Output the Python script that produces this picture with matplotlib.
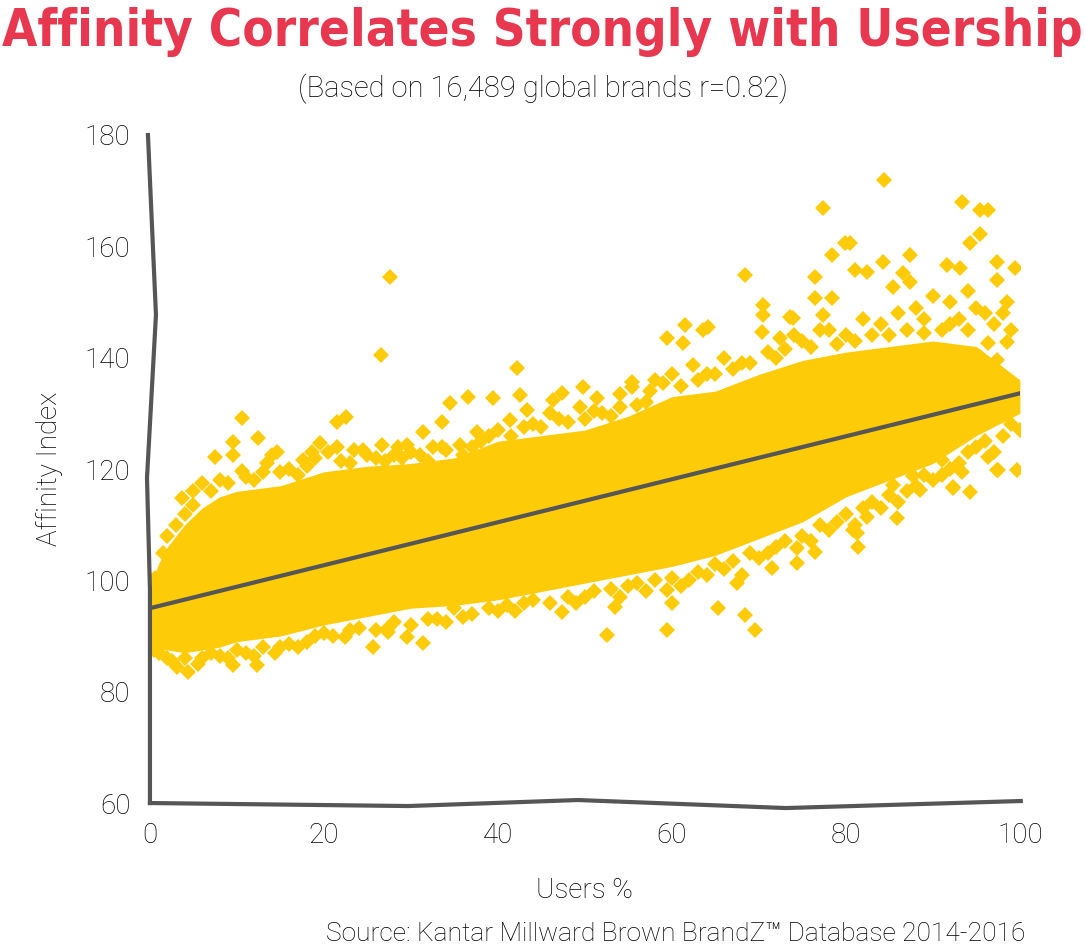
import matplotlib
matplotlib.use('Agg')
import matplotlib.pyplot as plt

# dense core of the cloud (Users %, lower / upper Affinity Index)
core_x  = [0, 1, 2, 4, 6, 8, 10, 15, 20, 25, 30, 35, 40, 45, 50, 55, 60, 65, 70, 75, 80, 85, 90, 95, 100]
core_lo = [88, 87.5, 87.5, 87, 87.5, 88, 89, 90, 92, 93.5, 95, 95.5, 96.5, 98, 99.5, 101, 102.5, 104.5, 107.5, 110.5, 115, 118, 121, 126, 130]
core_hi = [99, 103, 106, 110, 113, 115, 116, 117, 119.5, 120.5, 121, 122, 125, 126, 127, 129.5, 133, 134, 137, 139.5, 141, 142, 143, 142, 136]

# individual brands outside the core
pts = [
    # upper-left edge
    (0.6, 100.4), (3.7, 114.8), (7.5, 122.2), (9.5, 124.8), (10.6, 129.2), (12.4, 125.6),
    (9.5, 122.5), (10.6, 119.6), (14.0, 122.5), (14.6, 123.0), (21.5, 128.4), (22.5, 129.3),
    (19.5, 124.7), (18.6, 123.0), (17.6, 121.6), (21.5, 124.0), (20.5, 123.0), (24.5, 123.4),
    (26.7, 124.3), (28.5, 124.0), (29.5, 124.3), (31.4, 126.6), (33.6, 128.4), (32.5, 124.0),
    (33.6, 124.0), (35.6, 124.3), (37.6, 126.6), (41.4, 128.8), (43.3, 130.6), (49.4, 131.1),
    (51.4, 132.8), (55.4, 134.7), (54.0, 131.1), (34.5, 131.8), (36.6, 132.9), (39.4, 132.8),
    (42.2, 138.1), (42.5, 133.3), (47.4, 133.6), (46.3, 132.4), (49.8, 134.7), (55.4, 135.6),
    (27.6, 154.5), (26.6, 140.5),
    (2, 108), (4, 112), (5, 116), (6, 117.5), (8, 118), (11, 118.5), (13, 119.5), (16, 120),
    (23, 121), (26, 122), (28, 122.5), (30, 123), (38, 125), (44, 128), (47, 129), (52, 130),
    (57, 132),
    (1.5, 105), (3, 110), (5, 113.5), (7, 116), (9, 117.5), (12, 118), (13.5, 121), (15, 119.5),
    (17, 119), (18, 120.5), (19, 122), (22, 121.5), (23.5, 123.5), (25, 122.5), (27, 121.5),
    (29, 122), (31, 122.5), (32, 121.5), (34, 123.5), (36, 122.5), (37, 124), (39, 126),
    (40, 127), (41.5, 126), (43, 127.5), (45, 127.5), (46, 130), (48, 128.5), (50, 129),
    (51, 130.5), (53, 129.5), (54, 133.5), (56, 131.5), (57.5, 134), (59, 135.5), (60, 137),
    (61, 135), (63, 136), (65, 137), (67, 138), (69, 139), (71, 141), (73, 141.5), (74, 144),
    (76, 142), (77, 145), (79, 142.5), (81, 143), (83, 144), (87, 145), (89, 144.5), (92, 146),
    (94, 145), (95, 149), (97, 146), (98, 148),
    # upper-right
    (58, 136), (59.4, 143.5), (61.5, 145.9), (61.3, 142.6), (63.6, 145.0), (62.4, 138.7),
    (64.1, 145.5), (66, 140), (68.4, 154.8), (70.3, 144.6), (70.5, 149.5), (70.5, 147.7),
    (72.4, 143.5), (73.6, 147.3), (73.9, 147.1), (76.4, 154.5), (76.4, 150.7), (77.4, 147.7),
    (77.4, 166.9), (78.4, 158.4), (78.4, 150.7), (79.9, 160.6), (80.5, 160.6), (81.0, 155.7),
    (82.4, 155.4), (84.3, 157.2), (84.4, 171.9), (85.4, 152.7), (86.6, 155.2), (87.4, 158.4),
    (87.4, 153.6), (91.6, 156.6), (93.1, 156.1), (93.3, 168.0), (94.3, 160.6), (95.4, 162.2),
    (95.4, 166.5), (96.3, 166.5), (97.4, 157.2), (97.4, 153.9), (98.5, 150.0), (99.4, 156.1),
    (98.5, 142.8), (97.4, 139.6), (96.3, 142.6), (95.4, 140.1), (97.5, 135.6), (97.9, 129.7),
    (75, 143), (78, 145), (80, 144), (82, 147), (84, 146), (86, 148), (88, 149), (89, 147),
    (90, 151), (92, 150), (93, 147), (94, 152), (96, 148), (99, 145), (91, 145), (85, 144),
    (72, 140), (68, 139), (64, 137),
    # lower-right
    (96.3, 122.2), (97.5, 119.8), (94.3, 115.9), (92.3, 116.6), (93.3, 119.5), (95.4, 128.3),
    (90.8, 124.0), (91.1, 121.6), (88.5, 116.2), (85.9, 111.2), (82.4, 111.4), (81.3, 108.5),
    (81.4, 106.0), (85.4, 117.1), (99.7, 119.8), (87.7, 118.7), (85, 115.3), (80.8, 109),
    (92.3, 116.8), (97.4, 119.8),
    # lower edge
    (76.4, 105.1), (74.4, 103.1), (74.4, 105.8), (71.5, 102.2), (67.5, 99.5), (69.5, 91.1),
    (68.4, 93.8), (65.3, 95.0), (60.0, 95.9), (59.4, 98.3), (59.4, 91.1), (53.4, 95.2),
    (52.5, 90.2), (47.4, 94.3), (27.4, 90.7), (31.4, 88.7), (29.5, 89.8), (27.4, 91.4),
    (25.6, 88.0), (22.4, 89.8), (14.4, 86.9), (12.3, 84.8), (9.5, 84.8), (4.4, 83.5), (3.1, 84.4),
    (1, 87), (2, 86), (6, 86), (8, 86.5), (11, 87), (16, 88.5), (18, 89), (20, 90.5), (24, 91.5),
    (33, 93), (36, 93.5), (40, 94.5), (43, 96), (50, 97), (55, 99), (57, 98), (62, 100),
    (64, 101), (66, 102), (70, 104), (72, 106), (78, 109), (80, 112), (83, 114), (87, 116),
    (92, 120), (95, 124), (99, 128),
    (0.5, 87.5), (2.5, 85.5), (4, 86), (5.5, 85), (7, 87), (9, 86), (10, 87.5), (12, 86.5),
    (13, 88), (15, 88), (17, 88), (19, 90), (21, 90), (23, 91), (26, 91), (28, 92.5), (30, 92),
    (32, 93), (34, 92.5), (35, 95), (37, 94), (39, 95), (41, 95.5), (42, 94.5), (44, 96.5),
    (46, 96), (48, 97), (49, 96), (51, 98), (53, 98.5), (54, 97), (56, 99.5), (58, 100),
    (60, 100.5), (61, 99), (63, 101.5), (65, 103), (67, 103.5), (68, 101), (69, 105), (71, 105),
    (73, 107), (75, 108), (76, 107), (77, 110), (79, 110.5), (81, 110), (82, 113), (84, 113),
    (86, 114), (88, 117), (89, 119), (90, 118), (91, 119), (93, 121), (94, 123), (96, 125),
    (97, 123), (98, 126), (100, 127),
]
pts_x = [p[0] for p in pts]
pts_y = [p[1] for p in pts]

# fitted line
fit_x = [0, 100]
fit_y = [95.0, 133.6]

# hand-drawn axis lines
yaxis_x = [-0.23, 0.69, -0.34, 0.0, 0.0]
yaxis_y = [180, 147.7, 118.4, 98.3, 60]
xaxis_x = [0, 29.7, 49.2, 73.1, 100.1]
xaxis_y = [60, 59.46, 60.54, 59.1, 60.36]

xticks = [0, 20, 40, 60, 80, 100]
yticks = [60, 80, 100, 120, 140, 160, 180]

GOLD = '#FECB08'
GREY = '#565656'
RED = '#E8384F'
INK = '#000000'
FONT = ['Roboto', 'DejaVu Sans']
W = 'light'

fig = plt.figure(figsize=(10.85, 9.5), dpi=100)
ax = fig.add_axes([0.1382, 0.1547, 0.8018, 0.7032])

ax.fill_between(core_x, core_lo, core_hi, color=GOLD, lw=0, zorder=1)
ax.plot(pts_x, pts_y, 'D', color=GOLD, markersize=8, mew=0, zorder=2)
ax.plot(fit_x, fit_y, color=GREY, lw=3, zorder=3)
ax.plot(yaxis_x, yaxis_y, color=GREY, lw=3, clip_on=False, zorder=4)
ax.plot(xaxis_x, xaxis_y, color=GREY, lw=3, clip_on=False, zorder=4)

ax.set_xlim(0, 100)
ax.set_ylim(60, 180)
ax.set_xticks(xticks)
ax.set_yticks(yticks)
ax.tick_params(length=0, labelsize=20, pad=14, labelcolor=INK)
for lab in ax.get_xticklabels() + ax.get_yticklabels():
    lab.set_family(FONT)
    lab.set_fontweight(W)
for s in ax.spines.values():
    s.set_visible(False)

ax.set_xlabel('Users %', fontsize=20, family=FONT, fontweight=W, color=INK, labelpad=20)
ax.set_ylabel('Affinity Index', fontsize=20, family=FONT, fontweight=W, color=INK, labelpad=16)

fig.text(0.5, 0.966, 'Affinity Correlates Strongly with Usership', ha='center', va='center',
         fontsize=36.5, fontweight='heavy', fontstretch='condensed', color=RED,
         family=['DejaVu Sans'])
fig.text(0.5, 0.907, '(Based on 16,489 global brands r=0.82)', ha='center', va='center',
         fontsize=21, family=FONT, fontweight=W, color=INK)
fig.text(0.945, 0.004, 'Source: Kantar Millward Brown BrandZ\u2122 Database 2014-2016', ha='right',
         va='bottom', fontsize=19, family=FONT, fontweight=W, color=INK)

fig.savefig('out.png', dpi=100)
